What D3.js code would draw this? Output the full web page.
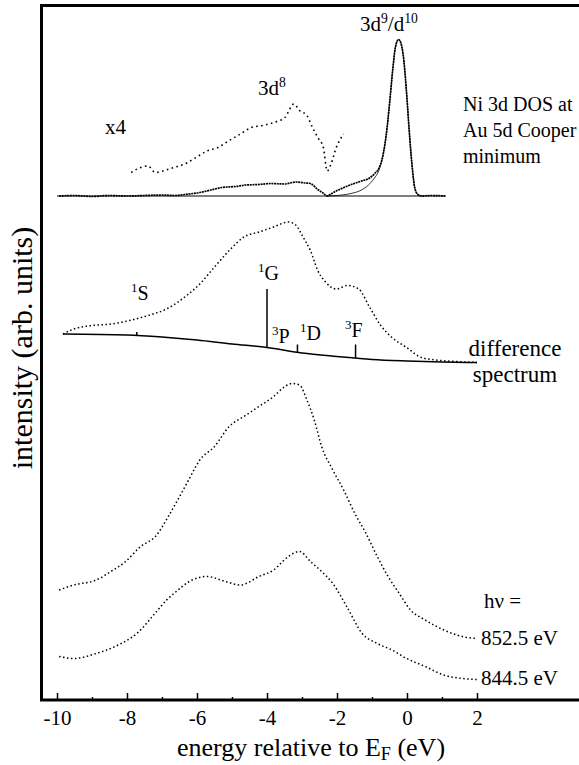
<!DOCTYPE html>
<html>
<head>
<meta charset="utf-8">
<script src="https://cdn.jsdelivr.net/npm/d3@7"></script>
<style>
  body { margin: 0; background: #fff; }
  svg { display: block; }
</style>
</head>
<body>
<div class="chart"></div>
<script>
var width = 579, height = 765;
var serif = "'Liberation Serif', 'Times New Roman', Times, serif";

// energy ticks (eV)
var majorTicks = [-10, -8, -6, -4, -2, 0, 2];
var minorTicks = [-9, -7, -5, -3, -1, 1];

// Ni 3d DOS at Au 5d Cooper minimum, [energy, intensity above its baseline]
var dosOffset = 100.8;
var dosNi = [[-9.94,0],[-9.5,0.1],[-9.0,-0.1],[-8.5,0.1],[-8.0,0],[-7.5,0.1],[-7.0,0.2],[-6.6,0.1],[-6.35,0.3],
  [-5.92,0.7],[-5.6,1.2],[-5.29,1.7],[-4.9,1.9],[-4.6,2.2],[-4.23,2.3],[-3.9,2.5],[-3.5,2.4],[-3.18,2.8],[-2.9,2.6],
  [-2.76,2.5],[-2.55,1.3],[-2.4,0.6],[-2.28,0],[-2.15,0.5],[-2.02,1.0],[-1.8,1.7],[-1.59,2.3],[-1.3,3.0],[-1.07,3.6],
  [-0.91,4.6],[-0.8,5.6],[-0.7,7.7],[-0.59,12.4],[-0.49,19.1],[-0.4,25.8],[-0.33,29.8],[-0.24,31.3],[-0.17,30.5],
  [-0.09,27.1],[-0.01,20.4],[0.07,12.4],[0.15,5.7],[0.22,1.7],[0.31,0.3],[0.41,0],[0.7,0.1],[1.1,0]];

// fitted line under the 3d9/d10 peak
var dosFit = [[-2.3,0],[-2.0,0.1],[-1.6,0.5],[-1.3,1.2],[-1.1,2.2],[-0.95,3.4],[-0.8,5.2],[-0.7,7.7],[-0.59,12.4],
  [-0.49,19.1],[-0.4,25.8],[-0.33,29.8],[-0.24,31.3],[-0.17,30.5],[-0.09,27.1],[-0.01,20.4],[0.07,12.4],[0.15,5.7],
  [0.22,1.7],[0.31,0.3],[0.45,0]];

// x4 magnified 3d8 region
var dosX4 = [[-7.88,4.7],[-7.61,5.7],[-7.4,6.0],[-7.19,4.7],[-6.98,5.0],[-6.66,5.7],[-6.35,6.4],[-6.03,7.7],[-5.71,9.0],
  [-5.4,9.7],[-5.08,11.1],[-4.76,12.4],[-4.45,13.7],[-4.13,14.1],[-3.81,14.7],[-3.49,15.7],[-3.23,18.4],[-3.07,17.1],
  [-2.86,16.1],[-2.7,13.7],[-2.55,11.7],[-2.39,9.7],[-2.28,5.0],[-2.17,6.4],[-2.02,9.7],[-1.81,12.4]];

// difference spectrum and its background
var diffSpec = [[-9.83,73.2],[-9.52,74.2],[-8.99,74.9],[-8.46,75.2],[-7.93,75.9],[-7.4,76.9],[-6.87,78.2],[-6.35,80.6],
  [-5.92,83.2],[-5.5,86.6],[-5.08,89.9],[-4.66,92.6],[-4.23,93.6],[-3.81,94.6],[-3.39,95.6],[-3.18,95.0],[-2.97,92.6],
  [-2.76,89.9],[-2.55,85.9],[-2.33,83.6],[-2.02,82.2],[-1.7,82.9],[-1.38,82.2],[-1.07,78.6],[-0.75,74.9],[-0.43,72.5],
  [-0.01,70.5],[0.41,68.5],[0.83,68.0],[1.4,67.7],[2.0,67.5]];
var diffBackground = [[-9.83,73.2],[-8,73.0],[-7,72.6],[-6,72.0],[-5,71.2],[-4,70.5],[-3,69.4],[-2,68.7],[-1,68.1],
  [0,67.8],[1,67.6],[2,67.5]];

// d8 multiplet positions [name, energy, top of marker]
var multiplets = [["1S",-7.72,73.6],["1G",-4.0,82.2],["1D",-3.13,71.1],["3F",-1.47,71.1]];

// photon energies
var spec852 = [[-9.94,22.0],[-9.52,23.0],[-8.88,24.0],[-8.46,25.7],[-8.04,27.7],[-7.61,30.7],[-7.19,32.7],[-6.77,37.3],
  [-6.45,41.3],[-6.24,44.0],[-5.92,48.0],[-5.5,50.7],[-5.08,54.7],[-4.66,56.7],[-4.23,58.7],[-3.81,60.7],[-3.49,62.7],
  [-3.28,63.3],[-3.07,63.0],[-2.86,60.0],[-2.65,56.0],[-2.44,50.7],[-2.12,46.0],[-1.81,42.0],[-1.49,37.3],[-1.17,33.3],
  [-0.85,28.7],[-0.54,24.7],[-0.22,21.3],[0.1,18.0],[0.52,16.0],[1.05,14.0],[1.58,12.7],[2.0,12.3]];
var spec844 = [[-9.94,8.7],[-9.52,8.3],[-8.88,9.3],[-8.25,11.0],[-7.72,13.3],[-7.19,17.4],[-6.87,20.0],[-6.66,21.3],
  [-6.14,24.0],[-5.71,24.7],[-5.19,23.7],[-4.76,23.0],[-4.23,24.7],[-3.81,26.0],[-3.39,28.7],[-3.07,29.7],[-2.76,27.7],
  [-2.44,25.7],[-2.12,23.3],[-1.7,18.4],[-1.28,13.3],[-0.85,11.3],[-0.43,10.0],[-0.01,8.3],[0.52,6.7],[1.05,5.0],
  [1.58,4.3],[2.0,4.1]];

var svg = d3.select(".chart").append("svg")
    .attr("width", width)
    .attr("height", height);

var x = d3.scaleLinear().domain([-10, 2]).range([57, 477]);
var y = d3.scaleLinear().domain([0, 140]).range([700, 0]);

var line = d3.line()
    .x(function(d){ return x(d[0]); })
    .y(function(d){ return y(d[1]); })
    .curve(d3.curveMonotoneX);

function shifted(data, off){
  return data.map(function(d){ return [d[0], d[1] + off]; });
}

function drawCurve(data, width, dash){
  svg.append("path")
      .datum(data)
      .attr("d", line)
      .style("fill", "none")
      .style("stroke", "#000")
      .style("stroke-width", width)
      .style("stroke-dasharray", dash);
}

// frame (no right side)
svg.append("path")
    .attr("d", "M579,5.5H41.5V700H579")
    .style("fill", "none")
    .style("stroke", "#000")
    .style("stroke-width", 3);

// axis ticks
var axis = svg.append("g")
    .attr("transform", "translate(0,700)")
    .call(d3.axisBottom(x).tickValues(majorTicks).tickSize(-7).tickPadding(10)
      .tickFormat(function(d){ return String(d); }));
axis.select(".domain").remove();
axis.selectAll(".tick line").style("stroke-width", 1.5);
axis.selectAll(".tick text")
    .style("font-family", serif)
    .style("font-size", "21px")
    .style("fill", "#000");

var minor = svg.append("g")
    .attr("transform", "translate(0,700)")
    .call(d3.axisBottom(x).tickValues(minorTicks).tickSize(-3).tickFormat(""));
minor.select(".domain").remove();
minor.selectAll(".tick line").style("stroke-width", 1.5);

// top: Ni 3d DOS
drawCurve(shifted([[-10,0],[1.1,0]], dosOffset), 1, null);
drawCurve(shifted(dosFit, dosOffset), 0.8, null);
drawCurve(shifted(dosNi, dosOffset), 1.7, "2,0.7");
drawCurve(shifted(dosX4, dosOffset), 1.6, "1.6,3.4");

// middle: difference spectrum
drawCurve(diffBackground, 1.5, null);
drawCurve(diffSpec, 1.5, "1.5,2.5");

var bg = d3.scaleLinear()
    .domain(diffBackground.map(function(p){ return p[0]; }))
    .range(diffBackground.map(function(p){ return p[1]; }));

svg.selectAll(".multiplet")
    .data(multiplets)
  .enter().append("line")
    .attr("class", "multiplet")
    .attr("x1", function(d){ return x(d[1]); })
    .attr("x2", function(d){ return x(d[1]); })
    .attr("y1", function(d){ return y(d[2]); })
    .attr("y2", function(d){ return y(bg(d[1])); })
    .style("stroke", "#000")
    .style("stroke-width", 1.5);

// bottom: photon energy spectra
drawCurve(spec852, 1.5, "1.5,2.5");
drawCurve(spec844, 1.5, "1.5,2.5");

// labels
function label(xp, yp, parts, size, anchor){
  var t = svg.append("text")
      .attr("x", xp)
      .attr("y", yp)
      .style("font-family", serif)
      .style("font-size", size + "px")
      .style("text-anchor", anchor || "start");
  parts.forEach(function(p){
    var s = t.append("tspan").text(p[0]);
    if (p[1] == "sup") s.attr("dy", -size * 0.4).style("font-size", (size * 0.65) + "px");
    if (p[1] == "base") s.attr("dy", size * 0.4);
    if (p[1] == "sub") s.attr("dy", size * 0.15).style("font-size", (size * 0.7) + "px");
    if (p[1] == "unsub") s.attr("dy", -size * 0.15);
  });
  return t;
}

label(105, 134, [["x4"]], 21);
label(258, 95, [["3d"], ["8", "sup"]], 21);
label(360, 31, [["3d"], ["9", "sup"], ["/d", "base"], ["10", "sup"]], 21);
label(463, 111, [["Ni 3d DOS at"]], 20);
label(463, 137, [["Au 5d Cooper"]], 20);
label(463, 163, [["minimum"]], 20);

label(131, 300, [["1", "sup"], ["S", "base"]], 20);
label(258, 280, [["1", "sup"], ["G", "base"]], 20);
label(272, 343, [["3", "sup"], ["P", "base"]], 20);
label(300, 340, [["1", "sup"], ["D", "base"]], 20);
label(345, 337, [["3", "sup"], ["F", "base"]], 20);

label(515, 356, [["difference"]], 23, "middle");
label(515, 382, [["spectrum"]], 23, "middle");

label(484, 608, [["hν ="]], 21);
label(481, 645, [["852.5 eV"]], 21);
label(481, 685, [["844.5 eV"]], 21);

// axis titles
label(311, 756, [["energy relative to E"], ["F", "sub"], [" (eV)", "unsub"]], 26, "middle");

svg.append("text")
    .attr("transform", "translate(32,348) rotate(-90)")
    .style("font-family", serif)
    .style("font-size", "30px")
    .style("text-anchor", "middle")
    .text("intensity (arb. units)");
</script>
</body>
</html>
